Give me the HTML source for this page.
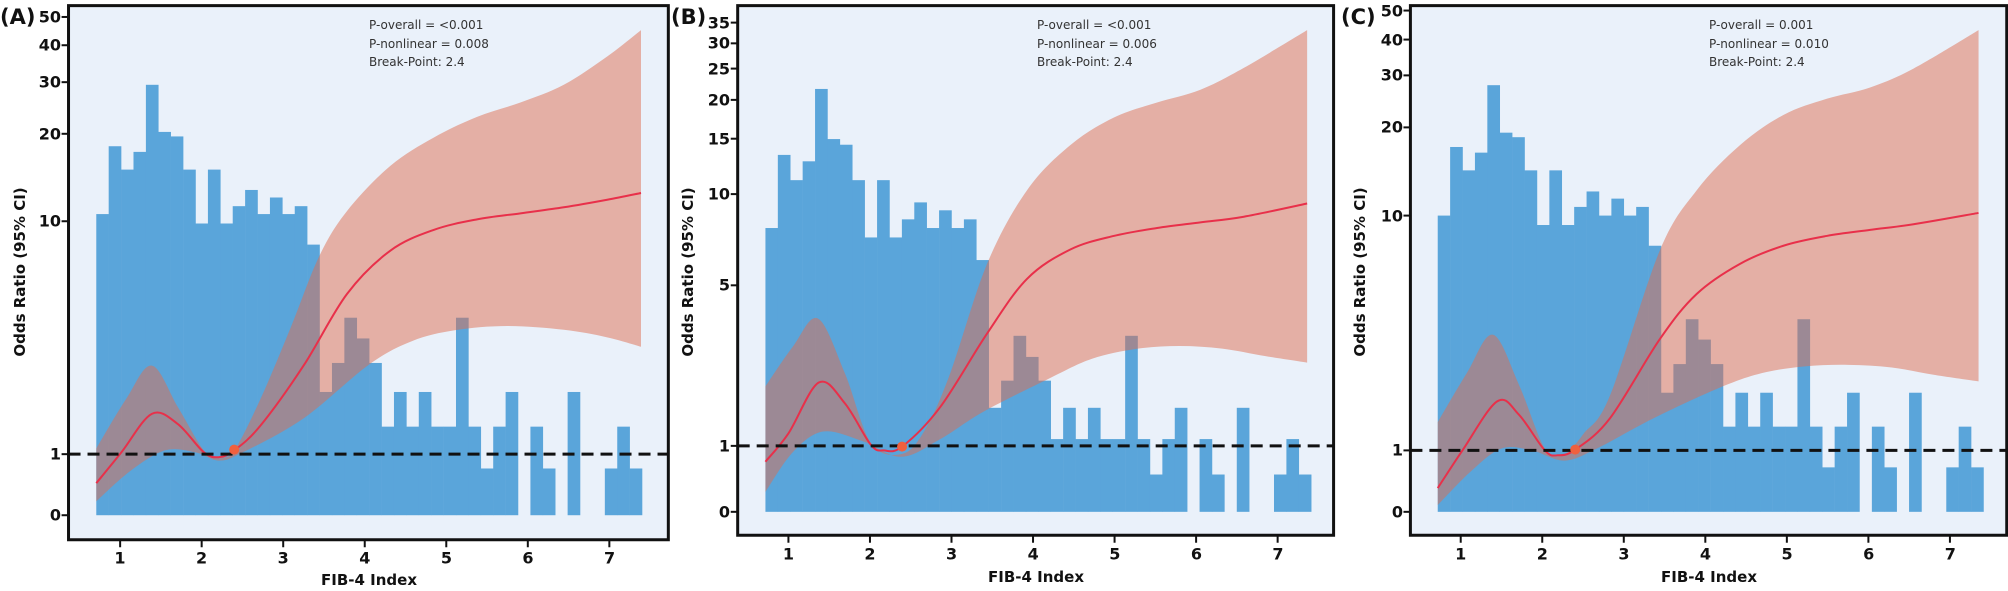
<!DOCTYPE html>
<html><head><meta charset="utf-8"><style>
html,body{margin:0;padding:0;background:#fff;}
svg{display:block;}
.tk{font-family:"DejaVu Sans","Liberation Sans",sans-serif;font-weight:bold;font-size:16px;fill:#111;}
.an{font-family:"DejaVu Sans","Liberation Sans",sans-serif;font-size:12px;fill:#333;}
.lb{font-family:"DejaVu Sans","Liberation Sans",sans-serif;font-weight:bold;font-size:15px;fill:#111;}
.pl{font-family:"DejaVu Sans","Liberation Sans",sans-serif;font-weight:bold;font-size:21px;fill:#111;}
</style></head><body>
<svg id="s" width="2008" height="591" viewBox="0 0 2008 591" xmlns="http://www.w3.org/2000/svg">
<g id="shapes"></g>
<!-- Panel A text -->
<g>
<text class="pl" x="0" y="24">(A)</text>
<g class="tk" text-anchor="end" dominant-baseline="central">
<text x="61" y="17">50</text><text x="61" y="45">40</text><text x="61" y="82">30</text><text x="61" y="134">20</text><text x="61" y="221">10</text><text x="61" y="454">1</text><text x="61" y="515">0</text>
</g>
<g class="tk" text-anchor="middle" dominant-baseline="central">
<text x="120" y="558">1</text><text x="201.6" y="558">2</text><text x="283.2" y="558">3</text><text x="364.8" y="558">4</text><text x="446.4" y="558">5</text><text x="528" y="558">6</text><text x="609.6" y="558">7</text>
</g>
<text class="lb" x="369" y="580" text-anchor="middle" dominant-baseline="central">FIB-4 Index</text>
<text class="lb" transform="translate(20,272) rotate(-90)" text-anchor="middle" dominant-baseline="central">Odds Ratio (95% CI)</text>
<text class="an" x="369" y="29">P-overall = &lt;0.001</text>
<text class="an" x="369" y="48">P-nonlinear = 0.008</text>
<text class="an" x="369" y="66">Break-Point: 2.4</text>
</g>
<!-- Panel B text -->
<g>
<text class="pl" x="671" y="24">(B)</text>
<g class="tk" text-anchor="end" dominant-baseline="central">
<text x="730" y="23">35</text><text x="730" y="43">30</text><text x="730" y="69">25</text><text x="730" y="100">20</text><text x="730" y="139">15</text><text x="730" y="194">10</text><text x="730" y="285">5</text><text x="730" y="446">1</text><text x="730" y="512">0</text>
</g>
<g class="tk" text-anchor="middle" dominant-baseline="central">
<text x="788.4" y="554">1</text><text x="870" y="554">2</text><text x="951.6" y="554">3</text><text x="1033.2" y="554">4</text><text x="1114.8" y="554">5</text><text x="1196.4" y="554">6</text><text x="1278" y="554">7</text>
</g>
<text class="lb" x="1036" y="577" text-anchor="middle" dominant-baseline="central">FIB-4 Index</text>
<text class="lb" transform="translate(688,272) rotate(-90)" text-anchor="middle" dominant-baseline="central">Odds Ratio (95% CI)</text>
<text class="an" x="1037" y="29">P-overall = &lt;0.001</text>
<text class="an" x="1037" y="48">P-nonlinear = 0.006</text>
<text class="an" x="1037" y="66">Break-Point: 2.4</text>
</g>
<!-- Panel C text -->
<g>
<text class="pl" x="1341" y="24">(C)</text>
<g class="tk" text-anchor="end" dominant-baseline="central">
<text x="1403" y="11">50</text><text x="1403" y="40">40</text><text x="1403" y="75">30</text><text x="1403" y="127">20</text><text x="1403" y="216">10</text><text x="1403" y="450">1</text><text x="1403" y="512">0</text>
</g>
<g class="tk" text-anchor="middle" dominant-baseline="central">
<text x="1460.7" y="554">1</text><text x="1542.3" y="554">2</text><text x="1623.9" y="554">3</text><text x="1705.5" y="554">4</text><text x="1787.1" y="554">5</text><text x="1868.7" y="554">6</text><text x="1950.3" y="554">7</text>
</g>
<text class="lb" x="1709" y="577" text-anchor="middle" dominant-baseline="central">FIB-4 Index</text>
<text class="lb" transform="translate(1360,272) rotate(-90)" text-anchor="middle" dominant-baseline="central">Odds Ratio (95% CI)</text>
<text class="an" x="1709" y="29">P-overall = 0.001</text>
<text class="an" x="1709" y="48">P-nonlinear = 0.010</text>
<text class="an" x="1709" y="66">Break-Point: 2.4</text>
</g>
</svg>
<script>
var SX=0.4337, SY=0.3769, NS="http://www.w3.org/2000/svg";
function el(t,a,p){var e=document.createElementNS(NS,t);for(var k in a)e.setAttribute(k,a[k]);p.appendChild(e);return e;}
function smooth(pts){var d="M"+pts[0][0]+","+pts[0][1];for(var i=0;i<pts.length-1;i++){var p0=pts[i-1]||pts[i],p1=pts[i],p2=pts[i+1],p3=pts[i+2]||p2;
var c1=[p1[0]+(p2[0]-p0[0])/6,p1[1]+(p2[1]-p0[1])/6],c2=[p2[0]-(p3[0]-p1[0])/6,p2[1]-(p3[1]-p1[1])/6];
d+=" C"+c1[0]+","+c1[1]+" "+c2[0]+","+c2[1]+" "+p2[0]+","+p2[1];}return d;}
function smoothRev(pts){var r=pts.slice().reverse();return smooth(r).replace(/^M/,"L");}
var P=[
{off:0,L:158,R:1541,T:15,B:1432,y1:1205,bx:222,bb:1367,yt:[45,120,218,355,587,1205,1367],
 h:[568,388,450,403,225,350,362,450,593,450,593,547,504,568,524,568,547,649,1040,963,843,898,963,1132,1040,1132,1040,1132,1132,843,1132,1243,1132,1040,0,1132,1243,0,1040,0,0,1243,1132,1243],
 up:[[222,1190],[290,1060],[350,970],[410,1080],[470,1195],[505,1212],[540,1195],[600,1060],[670,870],[736,680],[800,560],[900,440],[1000,365],[1100,310],[1200,272],[1300,225],[1400,150],[1478,80]],
 lo:[[222,1330],[300,1250],[380,1195],[450,1200],[505,1222],[560,1200],[700,1110],[850,968],[950,905],[1050,876],[1170,865],[1300,875],[1400,895],[1478,920]],
 ln:[[222,1282],[280,1200],[350,1098],[410,1125],[470,1200],[505,1213],[540,1195],[600,1130],[700,970],[800,780],[900,665],[1000,610],[1100,582],[1200,566],[1300,550],[1400,530],[1478,512]],
 pt:[540,1193],xt:277},
{off:680,L:133,R:1507,T:15,B:1420,y1:1183,bx:197,bb:1358,yt:[60,115,182,265,368,515,757,1183,1358],
 h:[605,411,478,428,236,369,384,478,630,478,630,582,537,605,558,605,582,690,1082,1010,891,947,1010,1165,1082,1165,1082,1165,1165,891,1165,1259,1165,1082,0,1165,1259,0,1082,0,0,1259,1165,1259],
 up:[[197,1025],[260,920],[318,845],[380,990],[440,1175],[510,1205],[560,1150],[620,1000],[708,700],[800,505],[900,385],[1000,312],[1100,272],[1200,238],[1300,180],[1446,80]],
 lo:[[197,1305],[260,1200],[330,1145],[420,1170],[510,1212],[600,1165],[700,1092],[850,1005],[950,952],[1050,926],[1150,918],[1250,925],[1350,945],[1446,962]],
 ln:[[197,1225],[250,1150],[320,1015],[380,1070],[440,1180],[470,1195],[512,1185],[600,1080],[708,885],[800,740],[900,662],[1000,626],[1100,605],[1200,590],[1300,575],[1446,540]],
 pt:[512,1185],xt:250},
{off:1328,L:190,R:1565,T:15,B:1420,y1:1195,bx:253,bb:1358,yt:[28,105,200,338,572,1195,1358],
 h:[572,390,452,405,226,352,364,452,597,452,597,549,508,572,527,572,549,652,1042,966,847,901,966,1132,1042,1132,1042,1132,1132,847,1132,1240,1132,1042,0,1132,1240,0,1042,0,0,1240,1132,1240],
 up:[[253,1120],[320,990],[380,888],[440,1020],[500,1190],[545,1205],[590,1150],[650,1050],[765,665],[850,505],[950,385],[1050,305],[1150,262],[1250,232],[1350,182],[1500,80]],
 lo:[[253,1340],[330,1250],[400,1190],[470,1195],[545,1222],[620,1190],[750,1110],[900,1030],[1000,990],[1100,972],[1200,968],[1300,975],[1400,995],[1500,1012]],
 ln:[[253,1295],[310,1195],[390,1065],[440,1100],[500,1195],[530,1208],[570,1193],[650,1110],[765,900],[850,780],[950,700],[1050,652],[1150,626],[1250,610],[1350,595],[1500,565]],
 pt:[570,1193],xt:306}
];
var root=document.getElementById("shapes");
P.forEach(function(p,i){
 var g=el("g",{transform:"translate("+p.off+",0) scale("+SX+","+SY+")"},root);
 var cid="c"+i;var cp=el("clipPath",{id:cid},g);el("rect",{x:p.L,y:p.T,width:p.R-p.L,height:p.B-p.T},cp);
 el("rect",{x:p.L,y:p.T,width:p.R-p.L,height:p.B-p.T,fill:"#eaf1fa"},g);
 var gg=el("g",{"clip-path":"url(#"+cid+")"},g);
 var bw=28.6;
 p.h.forEach(function(t,k){if(!t)return;el("rect",{x:p.bx+k*bw,y:t,width:bw+0.6,height:p.bb-t,fill:"#5aa5da"},gg);});
 var d=smooth(p.up)+" "+smoothRev(p.lo)+" Z";
 el("path",{d:d,fill:"#de6e50","fill-opacity":"0.5"},gg);
 el("path",{d:smooth(p.ln),fill:"none",stroke:"#e8304a","stroke-width":"2","vector-effect":"non-scaling-stroke"},gg);
 el("line",{x1:p.L,x2:p.R,y1:p.y1,y2:p.y1,stroke:"#111","stroke-width":"3","stroke-dasharray":"12 7","vector-effect":"non-scaling-stroke"},gg);
 el("ellipse",{cx:p.pt[0],cy:p.pt[1],rx:5/SX,ry:5/SY,fill:"#f0603e"},gg);
 el("rect",{x:p.L,y:p.T,width:p.R-p.L,height:p.B-p.T,fill:"none",stroke:"#111","stroke-width":"3","vector-effect":"non-scaling-stroke"},g);
 p.yt.forEach(function(y){el("line",{x1:p.L-16,x2:p.L,y1:y,y2:y,stroke:"#111","stroke-width":"2","vector-effect":"non-scaling-stroke"},g);});
 for(var k=0;k<7;k++){var x=p.xt+188*k;el("line",{x1:x,x2:x,y1:p.B,y2:p.B+20,stroke:"#111","stroke-width":"2","vector-effect":"non-scaling-stroke"},g);}
});
</script>
</body></html>
